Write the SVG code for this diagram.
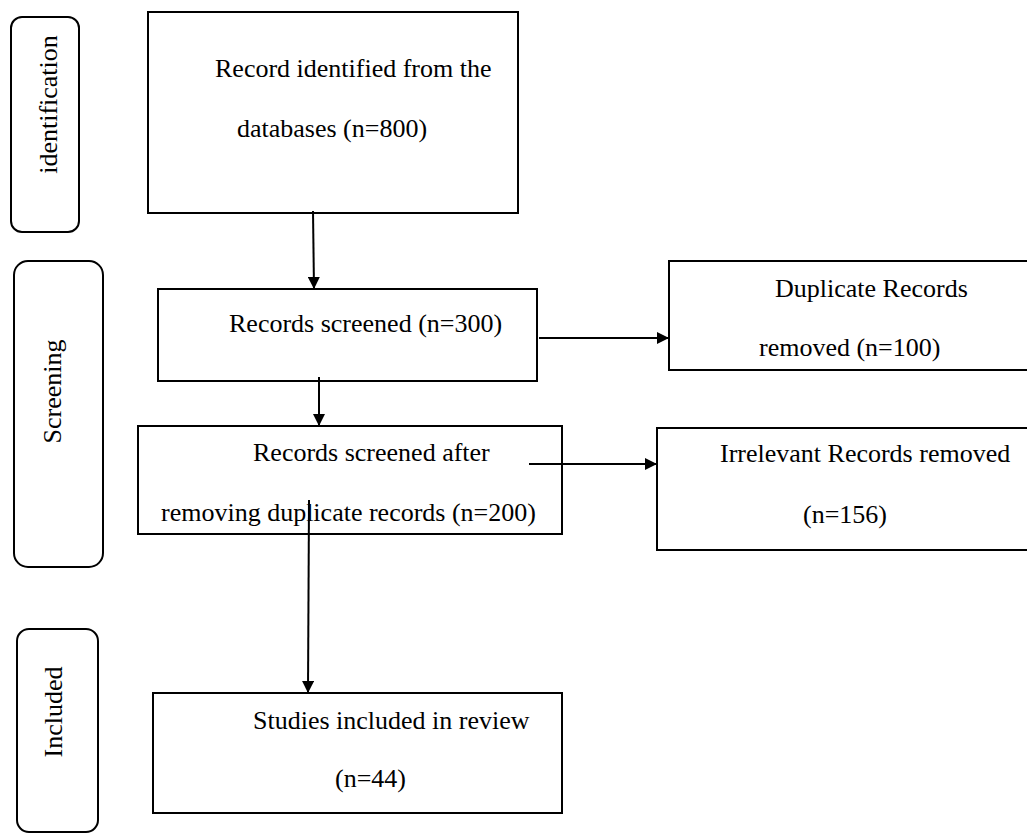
<svg xmlns="http://www.w3.org/2000/svg" width="1027" height="834" viewBox="0 0 1027 834">
<defs>
<style>
.box{fill:#fff;stroke:#000;stroke-width:2}
.lab{fill:none;stroke:#000;stroke-width:2}
.t{font-family:"Liberation Serif","Times New Roman",serif;font-size:26px;fill:#000}
.c{stroke:#000;stroke-width:2;fill:none;marker-end:url(#ah)}
</style>
<marker id="ah" markerUnits="userSpaceOnUse" markerWidth="13" markerHeight="12" refX="12" refY="6" orient="auto">
<path d="M0,0 L12,6 L0,12 Z" fill="#000"/>
</marker>
</defs>
<rect width="1027" height="834" fill="#fff"/>
<g id="stage-identification">
<rect class="lab" x="11" y="17" width="68" height="215" rx="11"/>
<text class="t" text-anchor="middle" transform="translate(57,104.5) rotate(-90)">identification</text>
</g>
<g id="stage-screening">
<rect class="lab" x="14" y="261" width="89" height="306" rx="14"/>
<text class="t" text-anchor="middle" transform="translate(61,391.5) rotate(-90)">Screening</text>
</g>
<g id="stage-included">
<rect class="lab" x="17" y="629" width="81" height="203" rx="12"/>
<text class="t" text-anchor="middle" transform="translate(62,712) rotate(-90)">Included</text>
</g>
<g id="node-identified">
<rect class="box" x="148" y="12" width="370" height="201"/>
<text class="t" x="215" y="77">Record identified from the</text>
<text class="t" x="237" y="137">databases (n=800)</text>
</g>
<g id="node-screened">
<rect class="box" x="158" y="289" width="379" height="92"/>
<text class="t" x="229" y="332">Records screened (n=300)</text>
</g>
<g id="node-duplicates">
<rect class="box" x="669" y="261" width="370" height="109"/>
<text class="t" x="775" y="297">Duplicate Records</text>
<text class="t" x="759" y="356">removed (n=100)</text>
</g>
<g id="node-after-dup">
<rect class="box" x="138" y="426" width="424" height="108"/>
<text class="t" x="253" y="461">Records screened after</text>
<text class="t" x="161" y="521">removing duplicate records (n=200)</text>
</g>
<g id="node-irrelevant">
<rect class="box" x="657" y="428" width="380" height="122"/>
<text class="t" x="720" y="462">Irrelevant Records removed</text>
<text class="t" x="803" y="523">(n=156)</text>
</g>
<g id="node-included">
<rect class="box" x="153" y="693" width="409" height="120"/>
<text class="t" x="253" y="729">Studies included in review</text>
<text class="t" x="335" y="787">(n=44)</text>
</g>
<g id="connectors">
<line class="c" x1="313" y1="211" x2="314" y2="289"/>
<line class="c" x1="319" y1="377" x2="319" y2="426"/>
<line class="c" x1="539" y1="338" x2="669" y2="338"/>
<line class="c" x1="529" y1="464" x2="657" y2="464"/>
<line class="c" x1="309" y1="500" x2="308" y2="693"/>
</g>
</svg>
